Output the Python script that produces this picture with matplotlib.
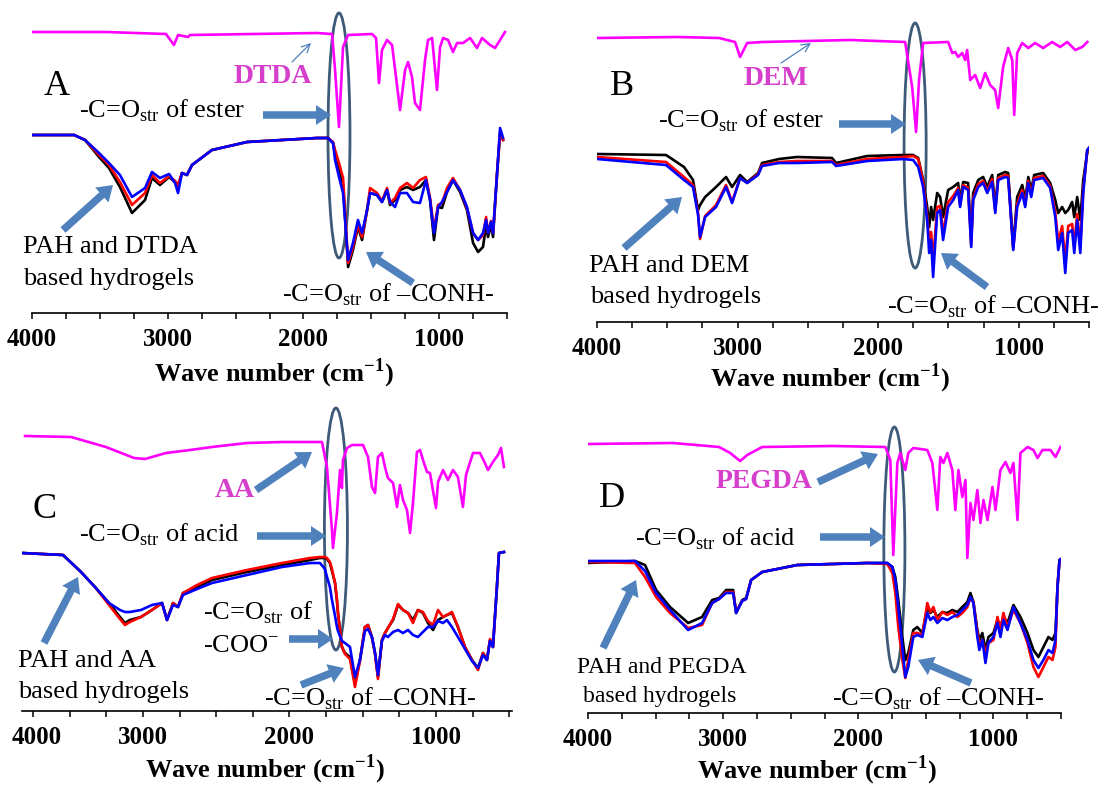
import matplotlib
matplotlib.use("Agg")
import matplotlib.pyplot as plt
from matplotlib.patches import Ellipse, FancyArrowPatch

plt.rcParams["font.family"] = ["Liberation Serif", "DejaVu Serif"]
plt.rcParams["mathtext.fontset"] = "custom"
plt.rcParams["mathtext.rm"] = "Liberation Serif"
plt.rcParams["mathtext.bf"] = "Liberation Serif:bold"

W_PX, H_PX = 1101, 786

# ---------------- A: PAH / DTDA ----------------
wn_dtda = [4000, 3455, 3013, 2954, 2924, 2850, 2836, 1900, 1789, 1767, 1738, 1708, 1671, 1495,
           1465, 1443, 1421, 1384, 1347, 1288, 1251, 1229, 1200, 1178, 1141, 1104, 1082, 1052,
           1016, 993, 971, 934, 898, 868, 824, 772, 721, 684, 625, 588, 551, 515]
t_dtda = [281, 281, 279, 268, 278, 276, 278, 280, 279, 243, 186, 266, 278, 279,
          275, 230, 263, 273, 268, 203, 243, 251, 236, 210, 203, 253, 273, 275,
          223, 266, 275, 273, 261, 270, 270, 275, 265, 275, 268, 265, 273, 281]

wn_a = [4000, 3690, 3609, 3506, 3433, 3352, 3263, 3167, 3116, 3057, 2990, 2946, 2924, 2895,
        2858, 2821, 2674, 2416, 1900, 1819, 1782, 1767, 1738, 1708, 1671, 1635, 1598, 1568,
        1531, 1509, 1458, 1421, 1384, 1362, 1325, 1288, 1237, 1192, 1141, 1097, 1067, 1038,
        1008, 979, 942, 898, 846, 795, 750, 713, 677, 654, 640, 618, 603, 573, 551, 529]
black_a = [178, 178, 173, 156, 145, 126, 100, 113, 135, 128, 136, 131, 126, 140,
           138, 148, 163, 171, 175, 175, 170, 160, 146, 128, 46, 63, 86, 73,
           103, 120, 118, 111, 123, 108, 113, 123, 126, 123, 126, 133, 113, 73,
           106, 105, 121, 133, 121, 103, 70, 61, 66, 88, 76, 88, 76, 140, 180, 173]
red_a = [178, 178, 173, 158, 148, 131, 108, 120, 138, 130, 137, 132, 128, 140,
         138, 148, 163, 171, 175, 175, 171, 163, 150, 135, 50, 66, 88, 76,
         103, 125, 120, 112, 125, 110, 115, 125, 130, 125, 133, 136, 115, 83,
         108, 110, 125, 135, 123, 105, 80, 73, 78, 96, 80, 92, 80, 140, 180, 173]
blue_a = [178, 178, 173, 160, 150, 138, 116, 125, 141, 135, 139, 130, 120, 140,
          138, 148, 163, 171, 175, 175, 170, 153, 136, 120, 53, 70, 93, 80,
          103, 120, 118, 111, 123, 111, 106, 120, 120, 111, 110, 133, 113, 80,
          106, 111, 121, 133, 123, 106, 80, 73, 80, 93, 80, 91, 80, 140, 185, 175]

# ---------------- B: PAH / DEM ----------------
wn_dem = [4000, 3430, 3132, 3018, 2982, 2932, 2826, 2200, 1808, 1758, 1730, 1709, 1680, 1502,
          1473, 1452, 1431, 1402, 1381, 1367, 1345, 1310, 1274, 1239, 1203, 1168, 1146, 1111,
          1075, 1046, 1032, 1011, 975, 932, 883, 826, 762, 705, 655, 598, 548, 512]
t_dem = [284, 285, 284, 280, 265, 279, 280, 282, 280, 235, 190, 242, 279, 280,
         269, 270, 265, 269, 262, 272, 242, 247, 234, 249, 237, 232, 214, 255,
         274, 262, 207, 269, 279, 274, 279, 274, 280, 275, 280, 272, 275, 280]

wn_b = [4000, 3509, 3381, 3317, 3281, 3267, 3231, 3153, 3082, 3039, 2982, 2932, 2854, 2826,
        2705, 2577, 2328, 2299, 2078, 1822, 1751, 1715, 1680, 1651, 1637, 1623, 1609, 1580,
        1559, 1538, 1502, 1466, 1431, 1417, 1395, 1360, 1338, 1324, 1288, 1253, 1224, 1189,
        1167, 1146, 1096, 1075, 1039, 1011, 975, 954, 932, 911, 890, 826, 776, 740, 719,
        691, 669, 648, 620, 605, 584, 562, 541, 513, 500]
black_b = [168, 167, 155, 142, 112, 117, 125, 135, 145, 135, 147, 140, 149, 159,
           163, 165, 164, 159, 166, 167, 167, 164, 142, 115, 95, 115, 102, 129,
           125, 105, 132, 135, 139, 122, 140, 139, 82, 129, 142, 145, 135, 147,
           115, 147, 150, 149, 75, 125, 137, 122, 145, 132, 147, 149, 139, 122, 109,
           115, 109, 112, 120, 105, 125, 102, 142, 169, 174]
red_b = [165, 160, 145, 137, 109, 83, 106, 117, 137, 120, 144, 139, 148, 157,
         160, 161, 161, 157, 163, 165, 166, 163, 140, 106, 80, 90, 60, 115,
         116, 88, 120, 126, 134, 117, 137, 134, 77, 124, 138, 141, 131, 143,
         111, 144, 147, 146, 73, 118, 132, 117, 141, 127, 144, 146, 136, 110, 80,
         96, 60, 96, 98, 76, 108, 75, 132, 171, 174]
blue_b = [163, 157, 142, 135, 107, 85, 105, 115, 135, 119, 144, 139, 147, 156,
          159, 159, 160, 156, 161, 163, 162, 155, 135, 102, 69, 82, 45, 109,
          112, 82, 115, 122, 132, 115, 135, 132, 75, 122, 135, 139, 129, 140,
          109, 142, 145, 144, 72, 115, 129, 115, 139, 125, 142, 144, 134, 105, 72,
          89, 49, 89, 92, 69, 102, 69, 129, 172, 174]

# ---------------- C: PAH / AA ----------------
wn_aa = [3805, 3491, 3253, 3061, 2986, 2939, 2843, 2679, 2529, 2290, 2051, 1812, 1778, 1744,
         1710, 1703, 1676, 1655, 1642, 1635, 1607, 1573, 1498, 1464, 1437, 1416, 1396, 1369,
         1348, 1328, 1293, 1266, 1246, 1225, 1198, 1177, 1157, 1130, 1109, 1082, 1061, 1041,
         1000, 986, 952, 918, 884, 850, 816, 795, 747, 700, 666, 645, 611, 577, 556, 536]
t_aa = [275, 274, 264, 253, 252, 254, 258, 261, 264, 268, 269, 269, 269, 244,
        181, 163, 198, 241, 223, 251, 263, 266, 266, 254, 224, 218, 254, 258,
        244, 233, 228, 204, 226, 211, 201, 178, 208, 259, 261, 248, 239, 238,
        203, 229, 241, 231, 241, 234, 204, 236, 258, 258, 248, 241, 249, 256, 263, 244]

wn_c = [3826, 3546, 3423, 3328, 3232, 3157, 3123, 3089, 3014, 2939, 2870, 2836, 2795, 2761,
        2727, 2631, 2529, 2290, 2051, 1860, 1792, 1758, 1744, 1724, 1710, 1689, 1676, 1669,
        1642, 1621, 1587, 1553, 1519, 1485, 1464, 1437, 1416, 1396, 1369, 1348, 1328, 1293,
        1259, 1225, 1191, 1157, 1123, 1089, 1055, 1020, 986, 952, 925, 891, 850, 802, 754,
        713, 679, 652, 631, 611, 584, 570, 536]
black_c = [158, 156, 139, 124, 108, 94, 88, 91, 94, 101, 108, 91, 108, 104,
           118, 124, 131, 139, 146, 151, 153, 153, 152, 148, 140, 128, 110, 98,
           64, 58, 54, 28, 51, 84, 86, 74, 58, 34, 71, 78, 83, 91,
           106, 101, 98, 91, 101, 98, 88, 81, 91, 94, 96, 98, 84, 64, 51,
           43, 58, 51, 71, 64, 124, 158, 159]
red_c = [158, 156, 139, 124, 106, 92, 86, 89, 94, 101, 108, 91, 108, 104,
         118, 126, 133, 141, 148, 153, 154, 154, 153, 149, 142, 128, 112, 98,
         64, 57, 52, 24, 50, 84, 86, 73, 57, 32, 71, 78, 83, 92,
         107, 101, 98, 88, 101, 99, 90, 86, 101, 94, 96, 99, 84, 64, 51,
         41, 58, 51, 72, 64, 124, 158, 159]
blue_c = [158, 156, 139, 124, 108, 101, 99, 99, 101, 106, 108, 91, 106, 104,
          116, 122, 128, 136, 144, 148, 148, 142, 134, 124, 111, 95, 84, 80,
          70, 68, 64, 34, 51, 80, 82, 74, 58, 36, 70, 76, 74, 79,
          81, 78, 81, 76, 74, 79, 84, 84, 90, 88, 91, 84, 74, 62, 50,
          43, 56, 51, 70, 64, 124, 158, 159]

# ---------------- D: PAH / PEGDA ----------------
wn_pegda = [4000, 3370, 3030, 2948, 2874, 2822, 2711, 2193, 1800, 1763, 1741, 1711, 1689, 1652,
            1630, 1593, 1489, 1452, 1415, 1393, 1370, 1341, 1304, 1282, 1259, 1230, 1207, 1193,
            1170, 1148, 1119, 1096, 1074, 1044, 1007, 985, 948, 911, 874, 852, 822, 800,
            748, 704, 674, 637, 578, 541, 504]
t_pegda = [269, 270, 266, 260, 252, 258, 266, 267, 266, 253, 158, 250, 260, 243,
           260, 265, 263, 250, 203, 256, 250, 260, 243, 203, 243, 216, 233, 155,
           210, 193, 223, 190, 213, 193, 226, 203, 243, 251, 240, 250, 193, 260,
           266, 263, 255, 263, 263, 256, 266]

wn_d = [4000, 3652, 3578, 3496, 3393, 3259, 3156, 3081, 3030, 2978, 2926, 2904, 2859, 2830,
        2793, 2711, 2452, 2193, 1933, 1785, 1748, 1726, 1704, 1674, 1652, 1630, 1593, 1563,
        1526, 1489, 1467, 1444, 1415, 1378, 1341, 1304, 1267, 1230, 1193, 1170, 1148, 1119,
        1104, 1082, 1059, 1037, 1000, 970, 948, 926, 896, 852, 800, 748, 704, 667, 630,
        593, 563, 541, 526, 511, 500]
black_d = [150, 152, 148, 123, 106, 90, 96, 113, 115, 123, 123, 100, 113, 115,
           133, 141, 148, 149, 150, 150, 146, 136, 113, 76, 53, 60, 83, 86,
           80, 106, 100, 103, 96, 101, 100, 103, 101, 106, 111, 120, 111, 83,
           73, 80, 63, 76, 80, 93, 86, 96, 90, 108, 96, 80, 63, 56, 66,
           76, 73, 80, 126, 153, 154]
red_d = [151, 150, 136, 116, 100, 85, 88, 110, 114, 121, 121, 101, 112, 114,
         133, 141, 148, 149, 150, 149, 140, 120, 86, 53, 35, 53, 80, 80,
         78, 110, 101, 106, 93, 101, 98, 101, 96, 100, 106, 115, 111, 80,
         70, 73, 60, 70, 73, 96, 83, 100, 86, 103, 90, 70, 46, 36, 46,
         56, 53, 66, 126, 153, 154]
blue_d = [152, 152, 142, 120, 103, 83, 90, 110, 114, 120, 120, 100, 112, 114,
          133, 141, 148, 149, 150, 150, 146, 133, 106, 66, 36, 46, 76, 78,
          76, 100, 93, 96, 90, 95, 93, 96, 98, 103, 108, 116, 110, 76,
          63, 73, 50, 70, 76, 90, 76, 93, 83, 106, 90, 73, 53, 45, 53,
          63, 60, 73, 126, 153, 154]

MAGENTA = "#ff00ff"
LABEL_MAGENTA = "#d63fcb"
ARROW = "#4f81bd"
RING = "#3d5a78"

ESTER = r"-C=O$_{\mathrm{str}}$ of ester"
ACID = r"-C=O$_{\mathrm{str}}$ of acid"
CONH = r"-C=O$_{\mathrm{str}}$ of –CONH-"

fig = plt.figure(figsize=(W_PX / 100, H_PX / 100), dpi=100)


def fxy(x, y):
    """Pixel position (origin top-left) -> figure fraction."""
    return (x / W_PX, 1 - y / H_PX)


def text(x, y, s, size=19, **kw):
    kw.setdefault("ha", "left")
    fig.text(*fxy(x, y), s, fontsize=size, va="baseline", **kw)


def block_arrow(x0, y0, x1, y1):
    fig.add_artist(FancyArrowPatch(
        fxy(x0, y0), fxy(x1, y1), transform=fig.transFigure,
        arrowstyle="simple,head_width=1.2,head_length=0.9,tail_width=0.45",
        mutation_scale=12, color=ARROW, lw=0, shrinkA=0, shrinkB=0))


def thin_arrow(x0, y0, x1, y1):
    fig.add_artist(FancyArrowPatch(
        fxy(x0, y0), fxy(x1, y1), transform=fig.transFigure,
        arrowstyle="->,head_width=0.25,head_length=0.5", mutation_scale=12,
        color=ARROW, lw=0.9, shrinkA=0, shrinkB=0))


def add_panel(left, right, axis_y, top, xlim, label_x, label_y):
    x0, y0 = fxy(left, axis_y)
    ytop = axis_y - top
    ax = fig.add_axes([x0, y0, (right - left) / W_PX, ytop / H_PX])
    ax.set_xlim(*xlim)
    ax.set_ylim(0, ytop)
    ax.patch.set_visible(False)
    for side in ("left", "right", "top"):
        ax.spines[side].set_visible(False)
    ax.spines["bottom"].set_linewidth(1.2)
    ax.set_yticks([])
    hi, lo = max(xlim), min(xlim)
    major = [v for v in (4000, 3000, 2000, 1000) if lo <= v <= hi]
    minor = [v for v in range(500, 4001, 250) if lo <= v <= hi and v not in major]
    ax.set_xticks(major, labels=[str(v) for v in major], fontsize=18, fontweight="bold")
    ax.set_xticks(minor, minor=True)
    ax.tick_params(axis="x", which="both", direction="out", length=4, width=1.1, pad=7)
    text(label_x, label_y, r"Wave number (cm$^{\mathbf{-1}}$)", size=19,
         fontweight="bold", ha="center")
    return ax


def spectra(ax, wn_ref, t_ref, wn, black, red, blue, ring):
    ax.plot(wn_ref, t_ref, color=MAGENTA, lw=1.9)
    for series, color in ((black, "#000000"), (red, "#ff0000"), (blue, "#0000ff")):
        ax.plot(wn, series, color=color, lw=1.9, solid_joinstyle="round")
    cx, cy, w, h = ring
    ax.add_patch(Ellipse((cx, cy), w, h, fill=False, edgecolor=RING, lw=2, clip_on=False))


# Panel A
ax_a = add_panel(32, 507, 313, 0, (4000, 500), 274, 381)
spectra(ax_a, wn_dtda, t_dtda, wn_a, black_a, red_a, blue_a, (1738, 177.5, 162, 245))
text(44, 95, "A", size=26)
text(234, 83, "DTDA", size=20, fontweight="bold", color=LABEL_MAGENTA)
thin_arrow(292, 62, 311, 43)
text(79, 118, ESTER)
block_arrow(263, 115, 331, 115)
text(23, 253, "PAH and DTDA")
text(23, 285, "based hydrogels")
block_arrow(63, 230, 113, 185)
text(282, 302, CONH)
block_arrow(413, 283, 366, 252)

# Panel B
ax_b = add_panel(597, 1089, 322, 0, (4000, 500), 830, 386)
spectra(ax_b, wn_dem, t_dem, wn_b, black_b, red_b, blue_b, (1737, 176.5, 157, 245))
text(610, 95, "B", size=26)
text(744, 85, "DEM", size=20, fontweight="bold", color=LABEL_MAGENTA)
thin_arrow(781, 63, 811, 43)
text(658, 128, ESTER)
block_arrow(839, 124, 906, 124)
text(589, 272, "PAH and DEM")
text(590, 303, "based hydrogels")
block_arrow(624, 248, 682, 197)
text(1100, 313, CONH, ha="right")
block_arrow(987, 287, 941, 253)

# Panel C
ax_c = add_panel(22, 512, 711, 393, (3826, 481), 265, 777)
spectra(ax_c, wn_aa, t_aa, wn_c, black_c, red_c, blue_c, (1683, 182, 157, 242))
fig.text(*fxy(37, 737), "4000", fontsize=18, fontweight="bold", ha="center", va="center")
text(33, 518, "C", size=26)
text(215, 497, "AA", size=20, fontweight="bold", color=LABEL_MAGENTA)
block_arrow(256, 490, 312, 452)
text(79, 542, ACID)
block_arrow(257, 536, 326, 536)
text(203, 620, r"-C=O$_{\mathrm{str}}$ of")
text(203, 653, r"-COO$^{-}$")
block_arrow(289, 639, 333, 639)
text(18, 667, "PAH and AA")
text(18, 698, "based hydrogels")
block_arrow(44, 643, 78, 577)
text(264, 705, CONH)
block_arrow(301, 685, 344, 668)

# Panel D
ax_d = add_panel(588, 1061, 713, 393, (4000, 500), 817, 778)
spectra(ax_d, wn_pegda, t_pegda, wn_d, black_d, red_d, blue_d, (1733, 163.5, 156, 245))
text(599, 507, "D", size=26)
text(716, 488, "PEGDA", size=20, fontweight="bold", color=LABEL_MAGENTA)
block_arrow(818, 482, 878, 454)
text(635, 545, ACID)
block_arrow(820, 537, 885, 537)
text(577, 673, "PAH and PEGDA", size=17)
text(583, 702, "based hydrogels", size=17)
block_arrow(603, 648, 636, 580)
text(832, 705, CONH)
block_arrow(971, 683, 918, 660)

fig.savefig("out.png", dpi=100)
